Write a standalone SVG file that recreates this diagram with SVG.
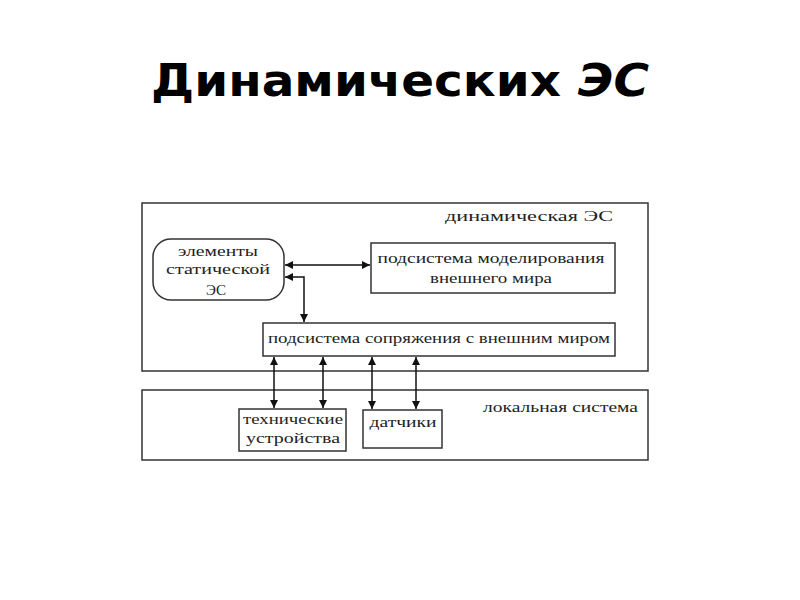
<svg xmlns="http://www.w3.org/2000/svg" width="800" height="600" viewBox="0 0 800 600">
<style>
.box{fill:#fff;stroke:#333;stroke-width:1.5}
.t{font-family:"Liberation Serif","DejaVu Serif",serif;font-size:15px;fill:#222}
.title{font-family:"DejaVu Sans",sans-serif;font-weight:bold;font-size:44px;fill:#000}
.c{fill:none;stroke:#111;stroke-width:1.5}
</style>
<defs>
<marker id="ah" viewBox="0 0 10 10" refX="10" refY="5" markerWidth="8" markerHeight="8" markerUnits="userSpaceOnUse" orient="auto-start-reverse">
<path d="M0,0 L10,5 L0,10 Z" fill="#111"/>
</marker>
</defs>
<rect width="800" height="600" fill="#fff"/>
<text class="title" x="400" y="96" text-anchor="middle" textLength="498" lengthAdjust="spacingAndGlyphs">Динамических <tspan font-style="italic">ЭС</tspan></text>

<g id="dynamic">
<rect class="box" x="142" y="203" width="506" height="168"/>
<text class="t" x="445" y="221" textLength="168" lengthAdjust="spacingAndGlyphs">динамическая ЭС</text>
</g>
<g id="local">
<rect class="box" x="142" y="390" width="506" height="70"/>
<text class="t" x="483" y="412" textLength="155" lengthAdjust="spacingAndGlyphs">локальная система</text>
</g>
<g id="static">
<rect class="box" x="153" y="239" width="131" height="61" rx="18" ry="18"/>
<text class="t" x="218" y="256" text-anchor="middle" textLength="80" lengthAdjust="spacingAndGlyphs">элементы</text>
<text class="t" x="218" y="274" text-anchor="middle" textLength="104" lengthAdjust="spacingAndGlyphs">статической</text>
<text class="t" x="216" y="295" text-anchor="middle">ЭС</text>
</g>
<g id="model">
<rect class="box" x="371" y="243" width="244" height="50"/>
<text class="t" x="491" y="263" text-anchor="middle" textLength="227" lengthAdjust="spacingAndGlyphs">подсистема моделирования</text>
<text class="t" x="491" y="283" text-anchor="middle" textLength="122" lengthAdjust="spacingAndGlyphs">внешнего мира</text>
</g>
<g id="interface">
<rect class="box" x="263" y="323" width="352" height="33"/>
<text class="t" x="439" y="343" text-anchor="middle" textLength="342" lengthAdjust="spacingAndGlyphs">подсистема сопряжения с внешним миром</text>
</g>
<g id="devices">
<rect class="box" x="239" y="409" width="107" height="42"/>
<text class="t" x="293" y="424" text-anchor="middle" textLength="100" lengthAdjust="spacingAndGlyphs">технические</text>
<text class="t" x="293" y="443" text-anchor="middle" textLength="94" lengthAdjust="spacingAndGlyphs">устройства</text>
</g>
<g id="sensors">
<rect class="box" x="363" y="410" width="79" height="38"/>
<text class="t" x="403" y="427" text-anchor="middle" textLength="67" lengthAdjust="spacingAndGlyphs">датчики</text>
</g>

<g id="connectors">
<line class="c" x1="285" y1="265" x2="370" y2="265" marker-start="url(#ah)" marker-end="url(#ah)"/>
<polyline class="c" points="285,277 304,277 304,322" marker-start="url(#ah)" marker-end="url(#ah)"/>
<line class="c" x1="274" y1="357" x2="274" y2="408" marker-start="url(#ah)" marker-end="url(#ah)"/>
<line class="c" x1="323" y1="357" x2="323" y2="408" marker-start="url(#ah)" marker-end="url(#ah)"/>
<line class="c" x1="372" y1="357" x2="372" y2="409" marker-start="url(#ah)" marker-end="url(#ah)"/>
<line class="c" x1="416" y1="357" x2="416" y2="409" marker-start="url(#ah)" marker-end="url(#ah)"/>
</g>
</svg>
